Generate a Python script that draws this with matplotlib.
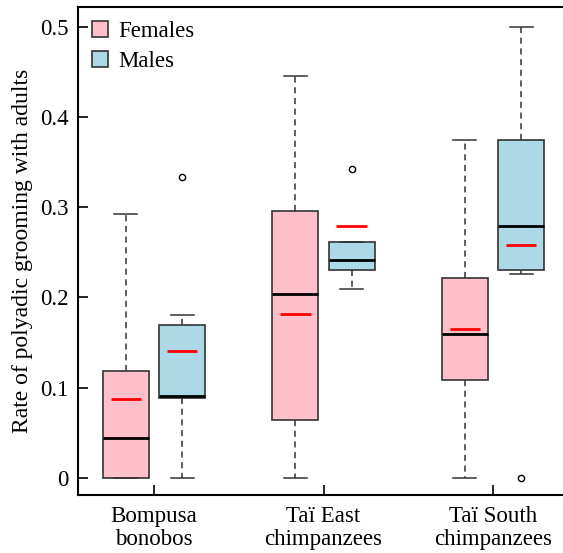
import numpy as np
import matplotlib.pyplot as plt
from matplotlib.patches import Patch

plt.rcParams['font.family'] = ['Liberation Serif', 'DejaVu Serif']

groups = ['Bompusa\nbonobos', 'Taï East\nchimpanzees', 'Taï South\nchimpanzees']
sexes = ['Females', 'Males']
colours = ['#FFC0CB', '#ADD8E6']

# per group, [females, males]
whislo = [[0.0, 0.0], [0.0, 0.209], [0.0, 0.226]]
q1 = [[0.0, 0.088], [0.064, 0.230], [0.109, 0.230]]
med = [[0.044, 0.091], [0.204, 0.242], [0.160, 0.279]]
q3 = [[0.119, 0.169], [0.296, 0.262], [0.222, 0.375]]
whishi = [[0.292, 0.181], [0.445, 0.262], [0.375, 0.500]]
means = [[0.087, 0.141], [0.182, 0.279], [0.165, 0.258]]
fliers = [[[], [0.334]], [[], [0.342]], [[], [0.0]]]

fig = plt.figure(figsize=(5.63, 5.53), dpi=100)
ax = fig.add_axes([78 / 563, 58 / 553, 491 / 563, 488 / 553])

offset = 0.166
width = 0.27
for s in range(2):
    stats = []
    for g in range(3):
        stats.append(dict(whislo=whislo[g][s], q1=q1[g][s], med=med[g][s],
                          q3=q3[g][s], whishi=whishi[g][s], fliers=fliers[g][s]))
    pos = np.arange(1, 4) + (s - 0.5) * 2 * offset
    ax.bxp(stats, positions=pos, widths=width, patch_artist=True,
           boxprops=dict(facecolor=colours[s], edgecolor='#333333', linewidth=1.2),
           medianprops=dict(color='black', linewidth=2),
           whiskerprops=dict(color='#333333', linestyle=(0, (4, 3)), linewidth=1.1),
           capprops=dict(color='#333333', linewidth=1.1),
           capwidths=width / 2,
           flierprops=dict(marker='o', markersize=4.5, markerfacecolor='none',
                           markeredgecolor='black', markeredgewidth=1))
    ax.hlines([m[s] for m in means], pos - width / 3, pos + width / 3,
              colors='red', linewidth=2, zorder=5)

ax.set_xlim(0.552, 3.448)
ax.set_ylim(-0.019, 0.522)
ax.set_xticks([1, 2, 3])
ax.set_xticklabels(groups, fontsize=16.5, linespacing=1.1)
ax.set_yticks([0, 0.1, 0.2, 0.3, 0.4, 0.5])
ax.set_yticklabels(['0', '0.1', '0.2', '0.3', '0.4', '0.5'], fontsize=16.5)
ax.tick_params(direction='in', length=7, width=1.2, pad=7)
ax.tick_params(axis='x', pad=8)
ax.set_ylabel('Rate of polyadic grooming with adults', fontsize=17, labelpad=5)
for sp in ax.spines.values():
    sp.set_linewidth(1.5)

handles = [Patch(facecolor=c, edgecolor='#333333', linewidth=1.2) for c in colours]
ax.legend(handles, sexes, loc='upper left', frameon=False, fontsize=16.5,
          handlelength=0.7, handleheight=0.7, handletextpad=0.45,
          labelspacing=0.4, borderaxespad=0.2, bbox_to_anchor=(0.0, 1.0))

fig.savefig('out.png', dpi=100)
